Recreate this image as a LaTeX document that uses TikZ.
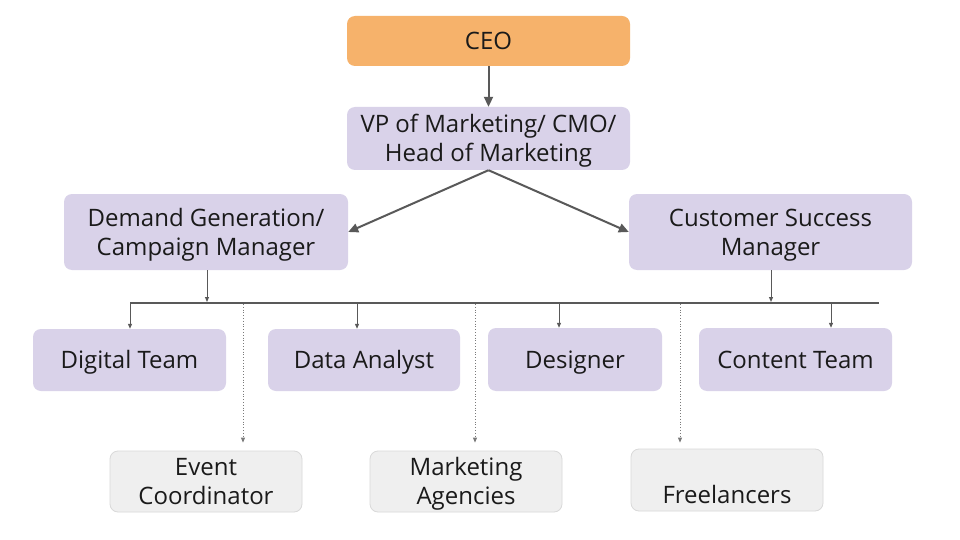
\documentclass[tikz,border=0pt]{standalone}
\usepackage{fontspec}
\setmainfont{Open Sans}
\usetikzlibrary{arrows.meta}
\definecolor{ceoorange}{HTML}{F6B26B}
\definecolor{lav}{HTML}{D9D2E9}
\definecolor{lgray}{HTML}{EFEFEF}
\definecolor{lborder}{HTML}{D9D9D9}
\definecolor{linegray}{HTML}{595959}
\definecolor{txt}{HTML}{1A1A1A}
\tikzset{
  box/.style={rounded corners=8pt, inner sep=0pt, align=center, text=txt,
    font=\fontsize{24}{29}\selectfont, text height=17pt, text depth=0pt},
  twoline/.style={text height=46pt, text depth=0pt},
  rolebox/.style={box, fill=lav},
  extbox/.style={box, fill=lgray, draw=lborder, line width=0.8pt},
  thick arrow/.style={draw=linegray, line width=2pt, -{Triangle[length=10pt,width=9pt]}},
  thin arrow/.style={draw=linegray, line width=1pt, -{Triangle[length=5pt,width=4pt]}},
  dot arrow/.style={draw=linegray!80, line width=0.8pt, dotted, -{Triangle[length=5pt,width=4pt]}},
  bus/.style={draw=linegray, line width=2pt},
}
\begin{document}
\begin{tikzpicture}[x=1pt,y=-1pt]
\useasboundingbox (0,0) rectangle (960,540);
\fill[white] (0,0) rectangle (960,540);

\node[box, fill=ceoorange, minimum width=283pt, minimum height=50pt] (ceo) at (488.5,41) {CEO};
\node[rolebox, twoline, minimum width=283pt, minimum height=63pt] (vp) at (488.5,138.5) {VP of Marketing/ CMO/\\Head of Marketing};
\node[rolebox, twoline, minimum width=284pt, minimum height=76pt] (dg) at (206,232) {Demand Generation/\\Campaign Manager};
\node[rolebox, twoline, minimum width=283pt, minimum height=76pt] (cs) at (770.5,232) {Customer Success\\Manager};

\node[rolebox, minimum width=193pt, minimum height=62pt] (dt) at (129.5,360) {Digital Team};
\node[rolebox, minimum width=192pt, minimum height=62pt] (da) at (364,360) {Data Analyst};
\node[rolebox, minimum width=174pt, minimum height=63pt] (ds) at (575,359.5) {Designer};
\node[rolebox, minimum width=193pt, minimum height=63pt] (ct) at (795.5,359.5) {Content Team};

\node[extbox, twoline, minimum width=192pt, minimum height=61pt] (ec) at (206,481.5) {Event\\Coordinator};
\node[extbox, twoline, minimum width=192pt, minimum height=61pt] (ma) at (466,481.5) {Marketing\\Agencies};
\node[extbox, twoline, minimum width=192pt, minimum height=62pt] (fl) at (727,480) {\strut\\Freelancers};

% bus line
\coordinate (bL) at (130,303);
\coordinate (bR) at (879,303);
\draw[bus] (bL) -- (bR);

% top arrows
\draw[thick arrow] (ceo.south) -- (vp.north);
\draw[thick arrow] (vp.south) -- (dg.east);
\draw[thick arrow] (vp.south) -- (cs.west);

% managers to bus
\coordinate (j1) at (207,302);
\coordinate (j2) at (771,302);
\draw[thin arrow] (dg.south -| j1) -- (j1);
\draw[thin arrow] (cs.south -| j2) -- (j2);

% bus to teams
\coordinate (t1) at (130,303);
\coordinate (t2) at (357,303);
\coordinate (t3) at (559,303);
\coordinate (t4) at (831,303);
\draw[thin arrow] (t1) -- (dt.north -| t1);
\draw[thin arrow] (t2) -- (da.north -| t2);
\draw[thin arrow] (t3) -- (ds.north -| t3);
\draw[thin arrow] (t4) -- (ct.north -| t4);

% dotted to externals
\coordinate (d1) at (243,304);
\coordinate (d2) at (475,304);
\coordinate (d3) at (680,304);
\draw[dot arrow] (d1) -- ([yshift=8pt]ec.north -| d1);
\draw[dot arrow] (d2) -- ([yshift=8pt]ma.north -| d2);
\draw[dot arrow] (d3) -- ([yshift=6pt]fl.north -| d3);
\end{tikzpicture}
\end{document}
